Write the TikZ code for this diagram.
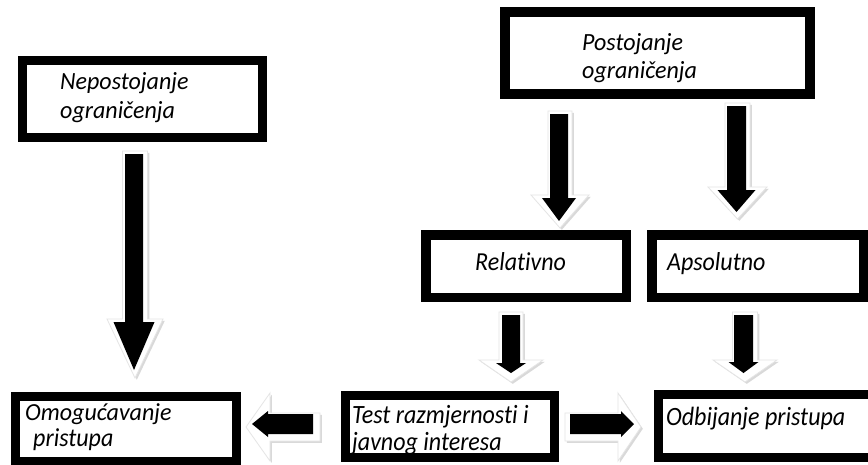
\documentclass[tikz,border=0pt]{standalone}
\usepackage{fontspec}
\setmainfont{Carlito}[Ligatures=NoCommon]
\newcommand\darr[7]{\path[#1] ({#2-#6},#3) -- ({#2+#6},#3) -- ({#2+#6},#4) -- ({#2+#7},#4) -- (#2,#5) -- ({#2-#7},#4) -- ({#2-#6},#4) -- cycle;}
\newcommand\harr[7]{\path[#1] (#3,{#2-#6}) -- (#4,{#2-#6}) -- (#4,{#2-#7}) -- (#5,#2) -- (#4,{#2+#7}) -- (#4,{#2+#6}) -- (#3,{#2+#6}) -- cycle;}
\newcommand\tall[2]{\scalebox{1}[#1]{#2}}
\tikzset{
  box/.style={draw=black, rectangle, inner sep=0pt, line width=9pt},
  lbl/.style={anchor=base west, inner sep=0pt, font=\fontsize{24}{28}\selectfont\itshape},
  shad/.style={fill=gray!30, shift={(1.8,1.8)}},
  glow/.style={fill=white, draw=gray!20, line width=0.8pt},
  blk/.style={fill=black}
}
\begin{document}
\begin{tikzpicture}[x=1pt,y=-1pt]
\useasboundingbox (0,0) rectangle (868,464);
\fill[white] (0,0) rectangle (868,464);
% texts
\node[lbl] (t1a) at (60,89) {\tall{1.03}{Nepostojanje}};
\node[lbl] (t1b) at (60,118) {\tall{1.03}{ograničenja}};
\node[lbl] (t2a) at (582,50) {\tall{1.03}{Postojanje}};
\node[lbl] (t2b) at (582,78) {\tall{1.03}{ograničenja}};
\node[lbl] (t3) at (475,270) {\tall{1.08}{Relativno}};
\node[lbl] (t4) at (667,270) {\tall{1.08}{Apsolutno}};
\node[lbl] (t5a) at (25,420) {\tall{1.02}{Omogućavanje}};
\node[lbl] (t5b) at (33,446) {\tall{1.08}{pristupa}};
\node[lbl] (t6a) at (352,423) {\tall{1.1}{Test razmjernosti i}};
\node[lbl] (t6b) at (352,450) {\tall{1.1}{javnog interesa}};
\node[lbl] (t7) at (666,425) {\tall{1.1}{Odbijanje pristupa}};
% boxes
\node[box, minimum width=240pt, minimum height=77pt] (b1) at (142.5,99) {};
\node[box, line width=10pt, minimum width=305pt, minimum height=82.5pt] (b2) at (657.5,52.75) {};
\node[box, line width=9.5pt, minimum width=200.5pt, minimum height=62.5pt] (b3) at (526,266) {};
\node[box, line width=9.5pt, minimum width=211.5pt, minimum height=62.5pt] (b4) at (757.5,266) {};
\node[box, minimum width=221pt, minimum height=65pt] (b5) at (126,429) {};
\node[box, minimum width=209pt, minimum height=62pt] (b6) at (450,426.5) {};
\node[box, minimum width=217pt, minimum height=63pt] (b7) at (767,426) {};
% block arrows
\darr{shad}{135}{151}{319}{378}{12.5}{28}
\darr{glow}{135}{151}{319}{378}{12.5}{28}
\darr{blk}{134}{154}{322}{370}{9}{20.5}
\darr{shad}{560}{111}{195}{228}{12}{29}
\darr{glow}{560}{111}{195}{228}{12}{29}
\darr{blk}{559}{114}{198}{221}{9}{17}
\darr{shad}{737.5}{103}{187}{219}{12.5}{29.5}
\darr{glow}{737.5}{103}{187}{219}{12.5}{29.5}
\darr{blk}{736.5}{106}{190}{212}{9.5}{19}
\darr{shad}{511}{312}{360}{382}{12}{32}
\darr{glow}{511}{312}{360}{382}{12}{32}
\darr{blk}{511}{315}{363}{373}{9}{15}
\darr{shad}{745}{312}{360}{382}{12.5}{32}
\darr{glow}{745}{312}{360}{382}{12.5}{32}
\darr{blk}{743.5}{315}{362}{373}{9.5}{15}
\harr{shad}{427}{320}{270}{246}{14}{34}
\harr{glow}{427}{320}{270}{246}{14}{34}
\harr{blk}{424}{313}{268}{252}{10}{13}
\harr{shad}{427}{565}{618}{641}{14}{34}
\harr{glow}{427}{565}{618}{641}{14}{34}
\harr{blk}{424}{570}{621}{634}{10}{13}
\end{tikzpicture}
\end{document}
